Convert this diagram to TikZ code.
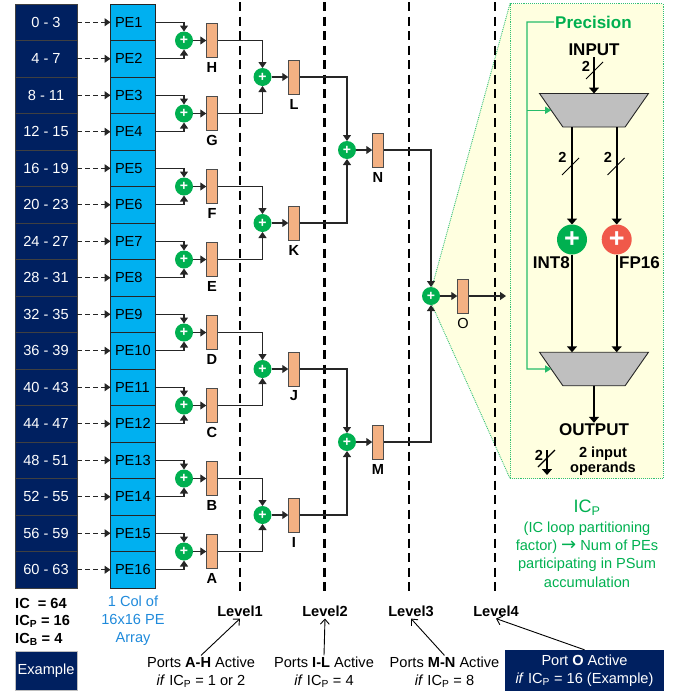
\documentclass[tikz,border=0pt]{standalone}
\usepackage{fontspec}
\setmainfont{Liberation Sans}
\newfontfamily\symfont{DejaVu Sans}
\usetikzlibrary{arrows.meta,shapes.geometric}

\definecolor{navy}{HTML}{002060}
\definecolor{pecol}{HTML}{00B0F0}
\definecolor{regcol}{HTML}{F4B183}
\definecolor{grn}{HTML}{00B050}
\definecolor{redadd}{HTML}{F0594A}
\definecolor{panel}{HTML}{FFFFE0}
\definecolor{colblue}{HTML}{1F8ADB}

\begin{document}
\begin{tikzpicture}[
  x=1pt, y=-1pt,
  font=\fontsize{14.6}{18}\selectfont,
  icbox/.style={draw=black!75, fill=navy, text=white, line width=0.9pt, minimum width=62pt,
                minimum height=36.5pt, inner sep=0pt, outer sep=0pt},
  pebox/.style={draw=black!85, fill=pecol, line width=0.9pt, minimum height=36.5pt,
                text width=36pt, inner xsep=4.5pt, inner ysep=0pt, align=left, outer sep=0pt},
  reg/.style={draw=black!70, fill=regcol, minimum width=11.5pt, minimum height=34pt,
              inner sep=0pt, outer sep=0pt, line width=0.8pt},
  add/.style={circle, fill=grn, text=white, minimum size=18pt, inner sep=0pt, outer sep=0pt,
              font=\fontsize{14}{14}\bfseries\selectfont},
  bigadd/.style={circle, text=white, minimum size=30pt, inner sep=0pt, outer sep=0pt,
                 font=\fontsize{27}{27}\bfseries\selectfont},
  mux/.style={draw=black!85, fill=black!25, trapezium, shape border rotate=180, trapezium angle=70,
              trapezium stretches=true, minimum width=109pt, minimum height=33.5pt,
              inner sep=0pt, outer sep=0pt, line width=0.9pt},
  sh/.style={font=\fontsize{14.6}{18}\bfseries\selectfont, inner sep=2pt},
  big/.style={font=\fontsize{17}{18}\bfseries\selectfont, inner sep=1pt},
  note/.style={align=center, inner sep=1pt, font=\fontsize{14.6}{18}\selectfont},
  fl/.style={-{Triangle[length=6pt,width=8pt]}, line width=1.1pt, black!85},
  dl/.style={fl, dash pattern=on 5pt off 3pt},
  th/.style={-{Triangle[length=6pt,width=10pt]}, line width=1.9pt},
  gl/.style={-{Triangle[length=6pt,width=7pt]}, line width=1.1pt, grn!85!white},
  pt/.style={-{Straight Barb[length=5pt,width=9pt]}, line width=0.9pt},
  lev/.style={line width=2.4pt, dash pattern=on 9pt off 5.5pt},
  tick/.style={line width=0.9pt}
]
\useasboundingbox (0,0) rectangle (677,694);

% ---------- zoom panel behind everything ----------
\fill[panel] (510,3.5) -- (432,287) -- (432,305) -- (510,478.5) -- cycle;
\node[draw=grn!80!white, densely dotted, fill=panel, line width=0.9pt, minimum width=153pt,
      minimum height=475pt, inner sep=0pt] (pan) at (586.5,241) {};
\draw[grn!80!white, densely dotted, line width=0.9pt] (510,3.5) -- (432,287);
\draw[grn!80!white, densely dotted, line width=0.9pt] (432,305) -- (510,478.5);

% ---------- level labels and dashed boundaries ----------
\node[sh] (lv1) at (240,611) {Level1};
\node[sh] (lv2) at (325,611) {Level2};
\node[sh] (lv3) at (411,611) {Level3};
\node[sh] (lv4) at (496,611) {Level4};
\coordinate (t1) at (240,2);
\coordinate (t2) at (324.3,2);
\coordinate (t3) at (409,2);
\coordinate (t4) at (494.7,2);
\draw[lev] (t1) -- (t1 |- 0,595);
\draw[lev] (t2) -- (t2 |- 0,595);
\draw[lev] (t3) -- (t3 |- 0,595);
\draw[lev] (t4) -- (t4 |- 0,595);

% ---------- IC ranges and PE column ----------
\node[icbox] (ic0)  at (46,22.25)  {0 - 3};
\node[icbox] (ic1)  at (46,58.75)  {4 - 7};
\node[icbox] (ic2)  at (46,95.25)  {8 - 11};
\node[icbox] (ic3)  at (46,131.75) {12 - 15};
\node[icbox] (ic4)  at (46,168.25) {16 - 19};
\node[icbox] (ic5)  at (46,204.75) {20 - 23};
\node[icbox] (ic6)  at (46,241.25) {24 - 27};
\node[icbox] (ic7)  at (46,277.75) {28 - 31};
\node[icbox] (ic8)  at (46,314.25) {32 - 35};
\node[icbox] (ic9)  at (46,350.75) {36 - 39};
\node[icbox] (ic10) at (46,387.25) {40 - 43};
\node[icbox] (ic11) at (46,423.75) {44 - 47};
\node[icbox] (ic12) at (46,460.25) {48 - 51};
\node[icbox] (ic13) at (46,496.75) {52 - 55};
\node[icbox] (ic14) at (46,533.25) {56 - 59};
\node[icbox] (ic15) at (46,569.75) {60 - 63};

\node[pebox] (pe1)  at (133,22.25)  {PE1};
\node[pebox] (pe2)  at (133,58.75)  {PE2};
\node[pebox] (pe3)  at (133,95.25)  {PE3};
\node[pebox] (pe4)  at (133,131.75) {PE4};
\node[pebox] (pe5)  at (133,168.25) {PE5};
\node[pebox] (pe6)  at (133,204.75) {PE6};
\node[pebox] (pe7)  at (133,241.25) {PE7};
\node[pebox] (pe8)  at (133,277.75) {PE8};
\node[pebox] (pe9)  at (133,314.25) {PE9};
\node[pebox] (pe10) at (133,350.75) {PE10};
\node[pebox] (pe11) at (133,387.25) {PE11};
\node[pebox] (pe12) at (133,423.75) {PE12};
\node[pebox] (pe13) at (133,460.25) {PE13};
\node[pebox] (pe14) at (133,496.75) {PE14};
\node[pebox] (pe15) at (133,533.25) {PE15};
\node[pebox] (pe16) at (133,569.75) {PE16};

\draw[dl] (ic0)  -- (pe1);
\draw[dl] (ic1)  -- (pe2);
\draw[dl] (ic2)  -- (pe3);
\draw[dl] (ic3)  -- (pe4);
\draw[dl] (ic4)  -- (pe5);
\draw[dl] (ic5)  -- (pe6);
\draw[dl] (ic6)  -- (pe7);
\draw[dl] (ic7)  -- (pe8);
\draw[dl] (ic8)  -- (pe9);
\draw[dl] (ic9)  -- (pe10);
\draw[dl] (ic10) -- (pe11);
\draw[dl] (ic11) -- (pe12);
\draw[dl] (ic12) -- (pe13);
\draw[dl] (ic13) -- (pe14);
\draw[dl] (ic14) -- (pe15);
\draw[dl] (ic15) -- (pe16);

% ---------- level 1 adders and registers ----------
\node[add] (ah) at (184,40.5)  {+};
\node[add] (ag) at (184,113.5) {+};
\node[add] (af) at (184,186.5) {+};
\node[add] (ae) at (184,259.5) {+};
\node[add] (ad) at (184,332.5) {+};
\node[add] (ac) at (184,405.5) {+};
\node[add] (ab) at (184,478.5) {+};
\node[add] (aa) at (184,551.5) {+};

\node[reg] (rh) at (212,40.5)  {};
\node[reg] (rg) at (212,113.5) {};
\node[reg] (rf) at (212,186.5) {};
\node[reg] (re) at (212,259.5) {};
\node[reg] (rd) at (212,332.5) {};
\node[reg] (rc) at (212,405.5) {};
\node[reg] (rb) at (212,478.5) {};
\node[reg] (ra) at (212,551.5) {};

\node[sh] (lh) at (212,67)  {H};
\node[sh] (lg) at (212,140) {G};
\node[sh] (lf) at (212,213) {F};
\node[sh] (le) at (212,286) {E};
\node[sh] (ld) at (212,359) {D};
\node[sh] (lc) at (212,432) {C};
\node[sh] (lb) at (212,505) {B};
\node[sh] (la) at (212,578) {A};

\draw[fl] (pe1.east)  -| (ah.north);
\draw[fl] (pe2.east)  -| (ah.south);
\draw[fl] (pe3.east)  -| (ag.north);
\draw[fl] (pe4.east)  -| (ag.south);
\draw[fl] (pe5.east)  -| (af.north);
\draw[fl] (pe6.east)  -| (af.south);
\draw[fl] (pe7.east)  -| (ae.north);
\draw[fl] (pe8.east)  -| (ae.south);
\draw[fl] (pe9.east)  -| (ad.north);
\draw[fl] (pe10.east) -| (ad.south);
\draw[fl] (pe11.east) -| (ac.north);
\draw[fl] (pe12.east) -| (ac.south);
\draw[fl] (pe13.east) -| (ab.north);
\draw[fl] (pe14.east) -| (ab.south);
\draw[fl] (pe15.east) -| (aa.north);
\draw[fl] (pe16.east) -| (aa.south);

\draw[fl] (ah) -- (rh);
\draw[fl] (ag) -- (rg);
\draw[fl] (af) -- (rf);
\draw[fl] (ae) -- (re);
\draw[fl] (ad) -- (rd);
\draw[fl] (ac) -- (rc);
\draw[fl] (ab) -- (rb);
\draw[fl] (aa) -- (ra);

% ---------- level 2 ----------
\node[add] (al) at (262.5,77)  {+};
\node[add] (ak) at (262.5,223) {+};
\node[add] (aj) at (262.5,369) {+};
\node[add] (ai) at (262.5,515) {+};
\node[reg] (rl) at (294,77)  {};
\node[reg] (rk) at (294,223) {};
\node[reg] (rj) at (294,369) {};
\node[reg] (ri) at (294,515) {};
\node[sh] (ll) at (294,104) {L};
\node[sh] (lk) at (294,250) {K};
\node[sh] (lj) at (294,396) {J};
\node[sh] (li) at (294,542) {I};

\draw[fl] (rh) -| (al.north);
\draw[fl] (rg) -| (al.south);
\draw[fl] (rf) -| (ak.north);
\draw[fl] (re) -| (ak.south);
\draw[fl] (rd) -| (aj.north);
\draw[fl] (rc) -| (aj.south);
\draw[fl] (rb) -| (ai.north);
\draw[fl] (ra) -| (ai.south);
\draw[fl] (al) -- (rl);
\draw[fl] (ak) -- (rk);
\draw[fl] (aj) -- (rj);
\draw[fl] (ai) -- (ri);

% ---------- level 3 ----------
\node[add] (an) at (347,150) {+};
\node[add] (am) at (347,442) {+};
\node[reg] (rn) at (378,150) {};
\node[reg] (rm) at (378,442) {};
\node[sh] (ln) at (378,177) {N};
\node[sh] (lm) at (378,469) {M};

\draw[fl] (rl) -| (an.north);
\draw[fl] (rk) -| (an.south);
\draw[fl] (rj) -| (am.north);
\draw[fl] (ri) -| (am.south);
\draw[fl] (an) -- (rn);
\draw[fl] (am) -- (rm);

% ---------- level 4 ----------
\node[add] (ao) at (431,296) {+};
\node[reg] (ro) at (463,296) {};
\node[sh, font=\fontsize{14.6}{18}\selectfont] (lo) at (463,323) {O};
\coordinate (oend) at (506,296);

\draw[fl] (rn) -| (ao.north);
\draw[fl] (rm) -| (ao.south);
\draw[fl] (ao) -- (ro);
\draw[fl] (ro) -- (oend);

% ---------- inside of the panel ----------
\node[big, grn, anchor=west] (prec) at (554,22) {Precision};
\node[big] (inp) at (594,50) {INPUT};
\node[mux] (m1) at (594,110.25) {\phantom{X}};
\node[mux] (m2) at (594,369) {\phantom{X}};
\node[bigadd, fill=grn] (a8) at (572,239.5) {+};
\node[bigadd, fill=redadd] (a16) at (616.7,239.5) {+};
\node[big, anchor=east] (l8) at (571,263) {INT8};
\node[big, anchor=west] (l16) at (618,263) {FP16};
\node[big] (outp) at (594,430) {OUTPUT};

\coordinate (gb) at (527,369);
\draw[gl] (prec.west) -| (gb) -- (m2.west);
\draw[gl] (gb |- m1.west) -- (m1.west);

\draw[th] (inp.south) -- (m1.north);
\draw[th] (a8 |- m1.south) -- (a8);
\draw[th] (a16 |- m1.south) -- (a16);
\draw[th] (a8) -- (a8 |- m2.north);
\draw[th] (a16) -- (a16 |- m2.north);
\draw[th] (m2.south) -- (outp.north);

\node[sh, inner sep=0pt] (n1) at (586,66) {2};
\node[sh, inner sep=0pt] (n2) at (562.5,157) {2};
\node[sh, inner sep=0pt] (n3) at (608,157) {2};
\draw[tick] (586,79) -- (603,62);
\draw[tick] (562,175) -- (579,158);
\draw[tick] (607.5,175) -- (624.5,158);

% ---------- key for the bus mark ----------
\coordinate (kt) at (547,450);
\coordinate (kb) at (547,475);
\draw[th] (kt) -- (kb);
\draw[tick, line width=1.2pt] (538,467) -- (555,450);
\node[sh, inner sep=0pt] (n4) at (539,455) {2};
\node[sh, align=center, inner sep=0pt, font=\fontsize{14.6}{15}\bfseries\selectfont] (ko) at (603,461) {2 input\\operands};

% ---------- texts below the columns ----------
\node[sh, anchor=west, inner sep=0pt] (tic)  at (15,603) {IC\ \ = 64};
\node[sh, anchor=west, inner sep=0pt] (ticp) at (15,621) {IC\textsubscript{P} = 16};
\node[sh, anchor=west, inner sep=0pt] (ticb) at (15,639) {IC\textsubscript{B} = 4};
\node[draw=black!25, fill=navy, text=white, minimum width=62pt, minimum height=39pt, inner sep=0pt] (exa) at (46,670.5) {Example};
\node[note, colblue] (col) at (133,621) {1 Col of\\16x16 PE\\Array};

\node[note, grn, font=\fontsize{14.6}{18.3}\selectfont] (icp) at (587,554.5) {(IC loop partitioning\\factor) {\symfont\fontsize{18}{18}\selectfont →} Num of PEs\\participating in PSum\\accumulation};
\node[note, grn, font=\fontsize{18}{18}\selectfont] (icph) at (587,508) {IC\textsubscript{P}};

% ---------- what each level enables ----------
\node[note] (p1) at (201,672) {Ports \textbf{A-H} Active\\\textit{if} IC\textsubscript{P} = 1 or 2};
\node[note] (p2) at (324,672) {Ports \textbf{I-L} Active\\\textit{if} IC\textsubscript{P} = 4};
\node[note] (p3) at (444.5,672) {Ports \textbf{M-N} Active\\\textit{if} IC\textsubscript{P} = 8};
\node[fill=navy, text=white, align=center, minimum width=159pt, minimum height=41pt, inner sep=0pt] (p4) at (584.5,670.5) {Port \textbf{O} Active\\\textit{if} IC\textsubscript{P} = 16 (Example)};

\draw[pt] (p1.north) -- (lv1.south);
\draw[pt] (p2.north) -- (lv2.south);
\draw[pt] (p3.north) -- (lv3.south);
\draw[pt] (p4.north) -- (lv4.south);

\end{tikzpicture}
\end{document}
